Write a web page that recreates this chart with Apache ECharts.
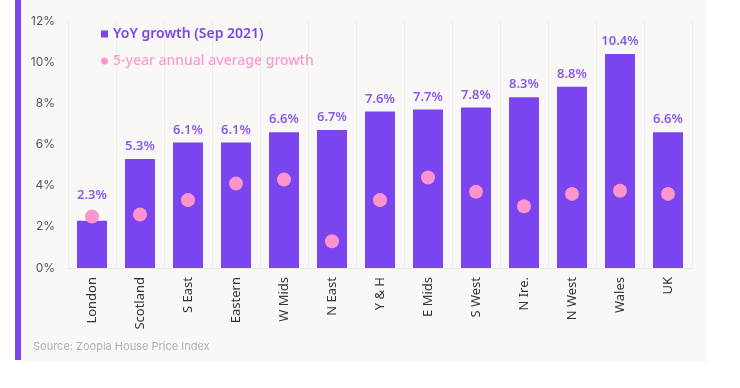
<!DOCTYPE html>
<html><head><meta charset="utf-8">
<script src="https://cdn.jsdelivr.net/npm/echarts@6/dist/echarts.min.js"></script>
<style>html,body{margin:0;padding:0;background:#fff}#c{width:740px;height:388px}</style>
</head><body><div id="c"></div>
<script>
const categories = ['London','Scotland','S East','Eastern','W Mids','N East','Y & H','E Mids','S West','N Ire.','N West','Wales','UK'];
const yoyGrowth = [2.3, 5.3, 6.1, 6.1, 6.6, 6.7, 7.6, 7.7, 7.8, 8.3, 8.8, 10.4, 6.6];
const fiveYearAvg = [2.5, 2.6, 3.3, 4.1, 4.3, 1.3, 3.3, 4.4, 3.7, 3.0, 3.6, 3.75, 3.6];
const yTicks = [0, 2, 4, 6, 8, 10, 12];
const seriesNames = ['YoY growth (Sep 2021)', '5-year annual average growth'];
const sourceText = 'Source: Zoopla House Price Index';

const FONT = '"Noto Sans", Inter, sans-serif';
// London's label is lifted above the overlapping dot, as in the original
const barData = yoyGrowth.map((v, i) => i === 0 ? {value: v, label: {distance: 19}} : v);

const chart = echarts.init(document.getElementById('c'), null, {renderer: 'canvas'});
chart.setOption({
  animation: false,
  backgroundColor: '#ffffff',
  textStyle: {fontFamily: FONT},
  graphic: [
    {type: 'rect', shape: {x: 21, y: 0, width: 686, height: 362}, style: {fill: '#faf8f7'}, z: -10},
    {type: 'rect', shape: {x: 15, y: 0, width: 6, height: 360}, style: {fill: '#7a44ee'}, z: -5},
    {type: 'text', left: 33, top: 341, style: {text: sourceText, fill: '#b0aeae', font: '11px Inter, sans-serif'}}
  ],
  grid: {left: 68, right: 48, top: 21, bottom: 120, containLabel: false},
  legend: {
    orient: 'vertical', left: 96, top: 22, itemGap: 13, itemWidth: 7, itemHeight: 7,
    data: [
      {name: seriesNames[0], icon: 'rect', textStyle: {color: '#7a44ee', fontWeight: 600, fontSize: 14, fontFamily: FONT}},
      {name: seriesNames[1], icon: 'circle', textStyle: {color: '#fb9ad0', fontWeight: 500, fontSize: 14, fontFamily: FONT}}
    ]
  },
  xAxis: {
    type: 'category', data: categories,
    axisLine: {lineStyle: {color: '#ece8e6'}},
    axisTick: {show: false},
    splitLine: {show: true, lineStyle: {color: '#f0ecea', width: 1}},
    axisLabel: {rotate: 90, color: '#333', fontSize: 13, margin: 9, fontFamily: FONT, interval: 0}
  },
  yAxis: {
    type: 'value', min: yTicks[0], max: yTicks[yTicks.length - 1], interval: 2,
    axisLine: {show: false}, axisTick: {show: false}, splitLine: {show: false},
    axisLabel: {formatter: v => v + '%', color: '#555', fontSize: 12, margin: 13, fontFamily: 'Inter, sans-serif'}
  },
  series: [
    {
      name: seriesNames[0], type: 'bar', data: barData, barWidth: 30,
      itemStyle: {color: '#7a44ee'},
      label: {show: true, position: 'top', distance: 6, formatter: p => p.value.toFixed(1) + '%', color: '#8a5af0', fontWeight: 600, fontSize: 13, fontFamily: FONT}
    },
    {
      name: seriesNames[1], type: 'scatter', data: fiveYearAvg, symbol: 'circle', symbolSize: 14,
      itemStyle: {color: '#fd94cc', opacity: 1}, z: 5
    }
  ]
});
</script></body></html>
